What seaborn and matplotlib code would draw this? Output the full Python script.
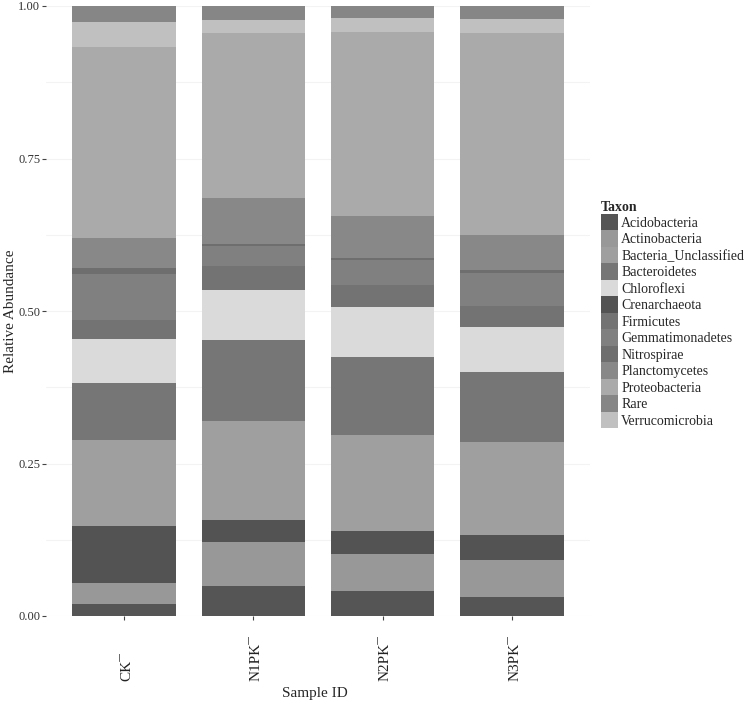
import matplotlib
matplotlib.use("Agg")
import matplotlib.pyplot as plt
import matplotlib.transforms as mtrans
from matplotlib.patches import Patch
from matplotlib.ticker import MultipleLocator, FormatStrFormatter
import pandas as pd
import seaborn as sns

# --- data ---
samples = ["CK", "N1PK", "N2PK", "N3PK"]
tick_labels = ["CK\u00af", "N1PK\u00af", "N2PK\u00af", "N3PK\u00af"]

# legend order (alphabetical)
taxa = ["Acidobacteria", "Actinobacteria", "Bacteria_Unclassified", "Bacteroidetes",
        "Chloroflexi", "Crenarchaeota", "Firmicutes", "Gemmatimonadetes",
        "Nitrospirae", "Planctomycetes", "Proteobacteria", "Rare", "Verrucomicrobia"]

# stacking order, bottom -> top
stack_order = ["Acidobacteria", "Actinobacteria", "Crenarchaeota", "Bacteria_Unclassified",
               "Bacteroidetes", "Chloroflexi", "Firmicutes", "Gemmatimonadetes",
               "Nitrospirae", "Planctomycetes", "Proteobacteria", "Verrucomicrobia", "Rare"]

acidobacteria = [0.020, 0.049, 0.041, 0.031]
actinobacteria = [0.034, 0.072, 0.060, 0.061]
bacteria_unclassified = [0.141, 0.161, 0.157, 0.153]
bacteroidetes = [0.093, 0.134, 0.129, 0.114]
chloroflexi = [0.072, 0.082, 0.082, 0.074]
crenarchaeota = [0.094, 0.037, 0.038, 0.041]
firmicutes = [0.031, 0.038, 0.036, 0.034]
gemmatimonadetes = [0.076, 0.034, 0.041, 0.055]
nitrospirae = [0.010, 0.003, 0.003, 0.004]
planctomycetes = [0.049, 0.075, 0.069, 0.058]
proteobacteria = [0.312, 0.270, 0.301, 0.331]
rare = [0.027, 0.023, 0.020, 0.022]
verrucomicrobia = [0.041, 0.022, 0.023, 0.022]

palette = {
    "Acidobacteria": "#555555",
    "Actinobacteria": "#989898",
    "Bacteria_Unclassified": "#9f9f9f",
    "Bacteroidetes": "#767676",
    "Chloroflexi": "#dadada",
    "Crenarchaeota": "#535353",
    "Firmicutes": "#737373",
    "Gemmatimonadetes": "#808080",
    "Nitrospirae": "#6e6e6e",
    "Planctomycetes": "#888888",
    "Proteobacteria": "#aaaaaa",
    "Rare": "#868686",
    "Verrucomicrobia": "#c0c0c0",
}

abund = pd.DataFrame({
    "Acidobacteria": acidobacteria,
    "Actinobacteria": actinobacteria,
    "Bacteria_Unclassified": bacteria_unclassified,
    "Bacteroidetes": bacteroidetes,
    "Chloroflexi": chloroflexi,
    "Crenarchaeota": crenarchaeota,
    "Firmicutes": firmicutes,
    "Gemmatimonadetes": gemmatimonadetes,
    "Nitrospirae": nitrospirae,
    "Planctomycetes": planctomycetes,
    "Proteobacteria": proteobacteria,
    "Rare": rare,
    "Verrucomicrobia": verrucomicrobia,
}, index=samples)

# cumulative tops of every layer
cum = abund[stack_order].cumsum(axis=1)

sns.set_theme(style="white")
plt.rcParams["font.family"] = ["Liberation Serif", "DejaVu Serif"]

fig = plt.figure(figsize=(7.5, 7.08), dpi=100)
ax = fig.add_axes([46.4 / 750, 92 / 708, 543.2 / 750, 610 / 708])

# draw from top layer down so each lower layer covers the one above
for taxon in reversed(stack_order):
    sns.barplot(x=samples, y=cum[taxon].values, order=samples, color=palette[taxon],
                saturation=1, width=0.8, linewidth=0, errorbar=None, ax=ax, zorder=2)

ax.set_xlim(-0.6, 3.6)
ax.set_ylim(0, 1)
ax.yaxis.set_major_locator(MultipleLocator(0.25))
ax.yaxis.set_minor_locator(MultipleLocator(0.125))
ax.yaxis.set_major_formatter(FormatStrFormatter("%.2f"))
ax.grid(which="both", axis="y", color="#f3f3f3", linewidth=0.8, zorder=0)
ax.set_axisbelow(True)
for s in ax.spines.values():
    s.set_visible(False)

ax.tick_params(axis="y", which="major", length=3, width=0.8, color="#444444",
               labelsize=9, labelcolor="#333333", pad=1.5, left=True)
ax.tick_params(axis="y", which="minor", length=0)
ax.tick_params(axis="x", length=3, width=0.8, color="#444444", bottom=True, labelbottom=False)

# rotated sample labels, bottom aligned like the original
trans = mtrans.blended_transform_factory(ax.transData, fig.transFigure)
for i, lab in enumerate(tick_labels):
    ax.text(i + 0.02, 27 / 708, lab, rotation=90, ha="center", va="bottom",
            fontsize=11, color="#222222", transform=trans)

ax.set_xlabel("Sample ID", fontsize=11)
ax.xaxis.set_label_coords(0.495, -0.117)
ax.set_ylabel("Relative Abundance", fontsize=11)
ax.yaxis.set_label_coords(-0.054, 0.5)

handles = [Patch(facecolor=palette[t], edgecolor="none", label=t) for t in taxa]
leg = fig.legend(handles=handles, title="Taxon", loc="upper left",
                 bbox_to_anchor=(594 / 750, 1 - 194 / 708), frameon=False,
                 fontsize=10, title_fontproperties={"weight": "bold", "size": 10},
                 borderpad=0, labelspacing=0, handlelength=1.2, handleheight=1.45,
                 handletextpad=0.25, alignment="left")

fig.savefig("out.png", dpi=100)
